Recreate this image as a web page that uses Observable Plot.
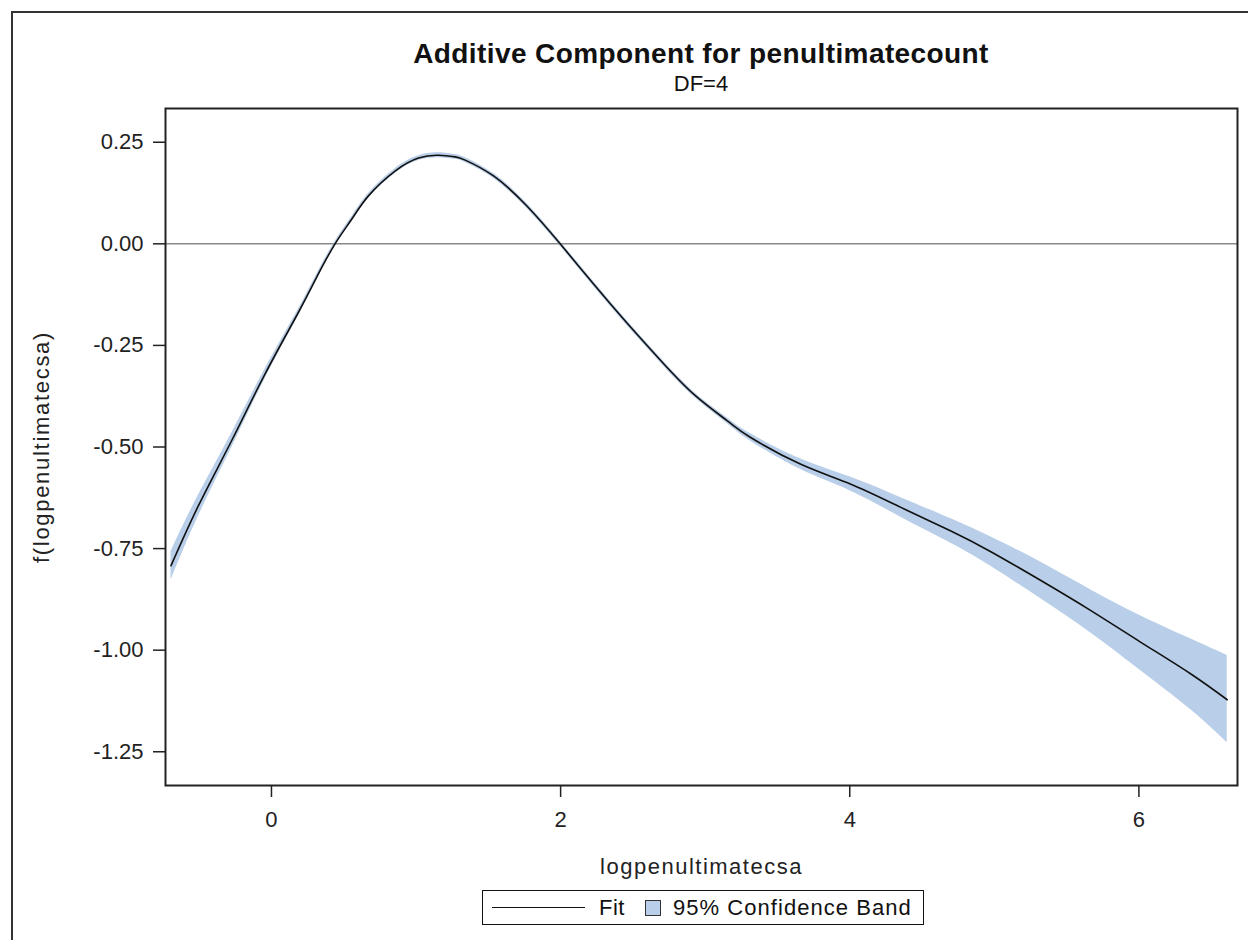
<!DOCTYPE html>
<html>
<head>
<meta charset="utf-8">
<script src="https://cdn.jsdelivr.net/npm/d3@7"></script>
<script src="https://cdn.jsdelivr.net/npm/@observablehq/plot@0.6"></script>
<style>
  html, body { margin: 0; padding: 0; background: #fff; }
  body { width: 1248px; height: 940px; position: relative; overflow: hidden; font-family: "Liberation Sans", Arial, sans-serif; color: #111; }
  #outer { position: absolute; left: 11px; top: 11px; width: 1300px; height: 1000px; border-top: 2px solid #333; border-left: 2px solid #333; box-sizing: border-box; }
  #title { position: absolute; left: 0; width: 1402px; top: 40px; text-align: center; font-weight: bold; font-size: 28px; line-height: 28px; letter-spacing: 0.4px; white-space: nowrap; }
  #subtitle { position: absolute; left: 0; width: 1402px; top: 73px; text-align: center; font-size: 22px; line-height: 22px; white-space: nowrap; }
  #chart { position: absolute; left: 0; top: 100px; }
  #chart g[aria-label="x-axis label"] text { letter-spacing: 1.5px; }
  #chart g[aria-label="y-axis label"] text { letter-spacing: 1.7px; }
  #legend { position: absolute; left: 482px; top: 890px; width: 442px; height: 35px; border: 1.5px solid #111; box-sizing: border-box; display: flex; align-items: center; font-size: 22px; white-space: nowrap; }
  #legend .line { width: 93px; height: 0; border-top: 1.5px solid #111; margin-left: 9px; }
  #legend .fit { margin-left: 14px; letter-spacing: 0.5px; }
  #legend .sw { width: 14px; height: 14px; background: #b9cee8; border: 1px solid #333; margin-left: 20px; }
  #legend .band { margin-left: 12px; letter-spacing: 1.05px; }
</style>
</head>
<body>
<div id="outer"></div>
<div id="title">Additive Component for penultimatecount</div>
<div id="subtitle">DF=4</div>
<div id="chart"></div>
<div id="legend"><div class="line"></div><span class="fit">Fit</span><div class="sw"></div><span class="band">95% Confidence Band</span></div>
<script>
// logpenultimatecsa values
const xs = [-0.695, -0.506, -0.275, -0.044, 0.186, 0.313, 0.440, 0.556, 0.671, 0.855,
            1.017, 1.155, 1.271, 1.340, 1.536, 1.767, 1.997, 2.228, 2.459, 2.689,
            2.920, 3.151, 3.312, 3.658, 4.004, 4.350, 4.696, 4.973, 5.319, 5.665,
            6.011, 6.357, 6.611];
// fitted additive component
const fit = [-0.792, -0.645, -0.484, -0.320, -0.169, -0.082, 0.000, 0.061, 0.118, 0.179,
             0.211, 0.218, 0.214, 0.206, 0.167, 0.093, 0.000, -0.099, -0.195, -0.286,
             -0.370, -0.435, -0.476, -0.542, -0.591, -0.648, -0.706, -0.757, -0.828, -0.902,
             -0.980, -1.058, -1.122];
// 95% confidence band, lower and upper limits
const lower = [-0.827, -0.671, -0.502, -0.332, -0.177, -0.089, -0.006, 0.055, 0.112, 0.173,
               0.205, 0.212, 0.208, 0.200, 0.161, 0.087, -0.006, -0.105, -0.201, -0.292,
               -0.376, -0.442, -0.485, -0.555, -0.608, -0.672, -0.736, -0.793, -0.873, -0.957,
               -1.050, -1.146, -1.228];
const upper = [-0.757, -0.619, -0.466, -0.308, -0.161, -0.075, 0.006, 0.067, 0.124, 0.185,
               0.217, 0.224, 0.220, 0.212, 0.173, 0.099, 0.006, -0.093, -0.189, -0.280,
               -0.364, -0.428, -0.467, -0.529, -0.574, -0.624, -0.676, -0.721, -0.783, -0.851,
               -0.915, -0.972, -1.013];
const xTicks = [0, 2, 4, 6];
const yTicks = [0.25, 0, -0.25, -0.5, -0.75, -1, -1.25];

const data = xs.map((x, i) => ({x, fit: fit[i], lo: lower[i], hi: upper[i]}));

const chart = Plot.plot({
  width: 1248,
  height: 780,
  marginLeft: 165,
  marginRight: 11,
  marginTop: 8,
  marginBottom: 95,
  style: {fontFamily: "'Liberation Sans', Arial, sans-serif", fontSize: "22px", color: "#222", background: "transparent"},
  x: {domain: [-0.733, 6.682]},
  y: {domain: [-1.333, 0.333]},
  marks: [
    Plot.areaY(data, {x: "x", y1: "lo", y2: "hi", fill: "#b9cee8", curve: "natural"}),
    Plot.ruleY([0], {stroke: "#8a8a8a", strokeWidth: 1.5}),
    Plot.lineY(data, {x: "x", y: "fit", stroke: "#111", strokeWidth: 1.6, curve: "natural"}),
    Plot.frame({stroke: "#222", strokeWidth: 2}),
    Plot.axisX({ticks: xTicks, tickSize: 12, tickPadding: 14, tickFormat: d => String(d),
      label: "logpenultimatecsa", labelAnchor: "center", labelArrow: "none", labelOffset: 88, stroke: "#222", strokeWidth: 1.5}),
    Plot.axisY({ticks: yTicks, tickSize: 12, tickPadding: 10, tickFormat: d => d.toFixed(2),
      label: "f(logpenultimatecsa)", labelAnchor: "center", labelArrow: "none", labelOffset: 132, stroke: "#222", strokeWidth: 1.5})
  ]
});
document.getElementById("chart").appendChild(chart);
</script>
</body>
</html>
